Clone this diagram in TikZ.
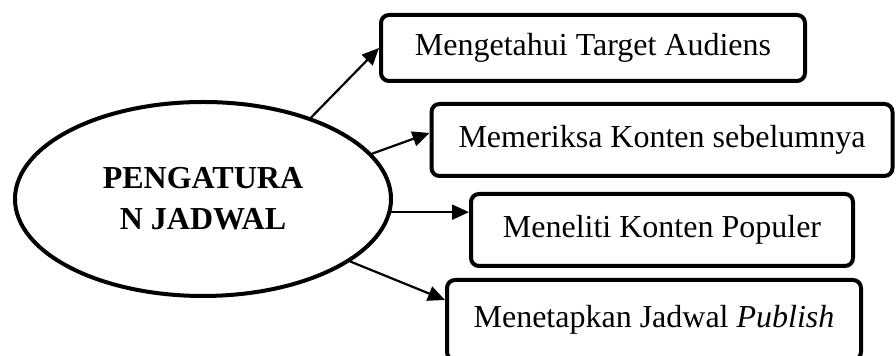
\documentclass[tikz,border=0pt]{standalone}
\usepackage{fontspec}
\setmainfont{Liberation Serif}
\usetikzlibrary{shapes.geometric,arrows.meta}
\begin{document}
\begin{tikzpicture}
	[x=0.5pt,y=-0.5pt,
	 every node/.style={font=\fontsize{16pt}{20.5pt}\selectfont},
	 box/.style={draw,line width=2pt,rounded corners=4pt,minimum height=36pt,inner sep=0pt},
	 arr/.style={-{Triangle[length=8.5pt,width=7.5pt]},line width=1.1pt}]
\useasboundingbox (0,0) rectangle (896,356);
% centre
\node[draw,ellipse,line width=2pt,minimum width=188pt,minimum height=97pt,
      inner sep=0pt,align=center,font=\fontsize{16pt}{20.5pt}\selectfont\bfseries]
      (jadwal) at (203,199) {PENGATURA\\N JADWAL};
% steps
\node[box,minimum width=212pt,minimum height=33pt] (target) at (593,48) {Mengetahui Target Audiens};
\node[box,minimum width=230.5pt] (konten) at (662,140) {Memeriksa Konten sebelumnya};
\node[box,minimum width=191pt] (populer) at (662,230) {Meneliti Konten Populer};
\node[box,minimum width=207pt,minimum height=40pt] (publish) at (654,320) {Menetapkan Jadwal \textit{Publish}};
% arrows
\draw[arr] (jadwal.37) -- (target.west);
\draw[arr] (jadwal.15) -- ([yshift=3.5pt]konten.west);
\draw[arr] (jadwal.-4) -- (jadwal.-4 -| populer.west);
\draw[arr] (jadwal.-23) -- ([yshift=10pt]publish.west);
\end{tikzpicture}
\end{document}
